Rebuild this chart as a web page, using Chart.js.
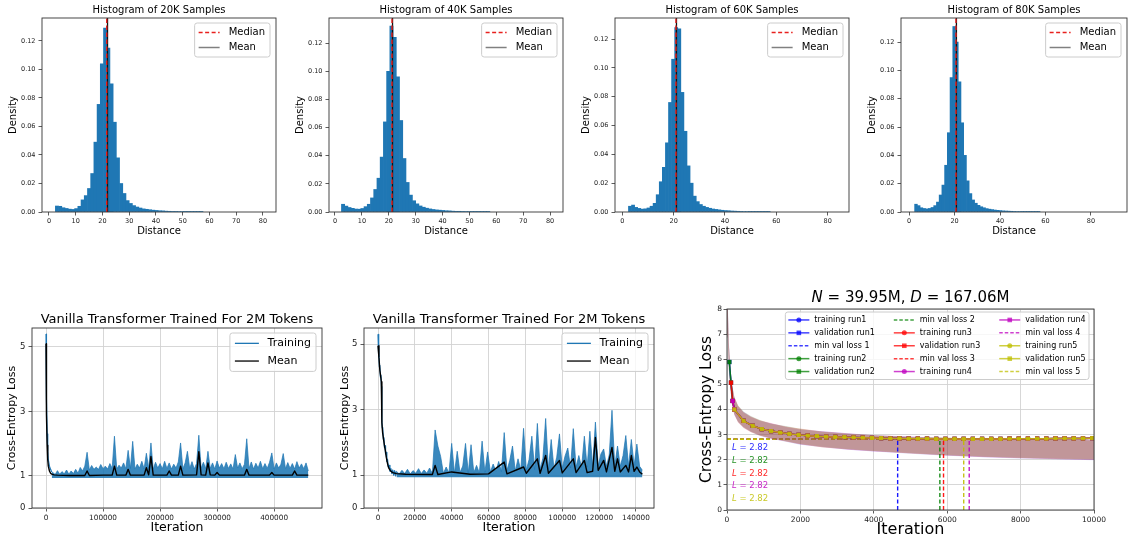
<!DOCTYPE html>
<html>
<head>
<meta charset="utf-8">
<script src="https://cdn.jsdelivr.net/npm/chart.js@4.4.1/dist/chart.umd.min.js"></script>
<style>
  html, body { margin: 0; padding: 0; background: #fff; }
  #fig { position: relative; width: 1130px; height: 540px; overflow: hidden; }
  #fig canvas { position: absolute; }
</style>
</head>
<body>
<div id="fig">
  <canvas id="h1"></canvas>
  <canvas id="h2"></canvas>
  <canvas id="h3"></canvas>
  <canvas id="h4"></canvas>
  <canvas id="p1"></canvas>
  <canvas id="p2"></canvas>
  <canvas id="p3"></canvas>
</div>
<script>
// ---------- histogram data (density per bin) ----------
const binCenters = [3.0, 4.2, 5.4, 6.6, 7.8, 9.0, 10.2, 11.4, 12.6, 13.8, 15.0, 16.2, 17.4, 18.6, 19.8, 21.0, 22.2, 23.4, 24.6, 25.8, 27.0, 28.2, 29.4, 30.6, 31.8, 33.0, 34.2, 35.4, 36.6, 37.8, 39.0, 40.2, 41.4, 42.6, 43.8, 45.0, 46.2, 47.4, 48.6, 49.8, 51.0, 52.2, 53.4, 54.6, 55.8, 57.0];
const hist20k = [0.0042, 0.0040, 0.0030, 0.0025, 0.0020, 0.0018, 0.0024, 0.0040, 0.0085, 0.0115, 0.0165, 0.0270, 0.0490, 0.0755, 0.1040, 0.1290, 0.1150, 0.0900, 0.0630, 0.0380, 0.0200, 0.0130, 0.0080, 0.0060, 0.0045, 0.0035, 0.0028, 0.0022, 0.0019, 0.0016, 0.0013, 0.0011, 0.0009, 0.0008, 0.0006, 0.0005, 0.0004, 0.0004, 0.0003, 0.0003, 0.0002, 0.0002, 0.0001, 0.0001, 0.0001, 0.0001];
const hist40k = [0.0055, 0.0042, 0.0032, 0.0026, 0.0021, 0.0020, 0.0025, 0.0038, 0.0055, 0.0100, 0.0160, 0.0240, 0.0390, 0.0640, 0.1000, 0.1320, 0.1240, 0.0960, 0.0650, 0.0380, 0.0210, 0.0120, 0.0080, 0.0058, 0.0043, 0.0034, 0.0027, 0.0022, 0.0018, 0.0015, 0.0013, 0.0011, 0.0009, 0.0008, 0.0006, 0.0005, 0.0005, 0.0004, 0.0003, 0.0003, 0.0002, 0.0002, 0.0002, 0.0001, 0.0001, 0.0001];
const hist60k = [0.0040, 0.0048, 0.0032, 0.0025, 0.0020, 0.0022, 0.0028, 0.0040, 0.0060, 0.0120, 0.0210, 0.0310, 0.0480, 0.0760, 0.1060, 0.1280, 0.1270, 0.0830, 0.0560, 0.0320, 0.0200, 0.0110, 0.0072, 0.0052, 0.0040, 0.0032, 0.0026, 0.0021, 0.0018, 0.0015, 0.0012, 0.0010, 0.0009, 0.0007, 0.0006, 0.0005, 0.0004, 0.0003, 0.0003, 0.0002, 0.0002, 0.0002, 0.0001, 0.0001, 0.0001, 0.0001];
const hist80k = [0.0055, 0.0045, 0.0030, 0.0025, 0.0022, 0.0025, 0.0032, 0.0045, 0.0070, 0.0120, 0.0190, 0.0330, 0.0560, 0.0950, 0.1310, 0.1200, 0.0920, 0.0630, 0.0400, 0.0220, 0.0130, 0.0085, 0.0062, 0.0047, 0.0037, 0.0030, 0.0024, 0.0020, 0.0017, 0.0014, 0.0012, 0.0010, 0.0008, 0.0007, 0.0006, 0.0005, 0.0004, 0.0003, 0.0003, 0.0002, 0.0002, 0.0002, 0.0001, 0.0001, 0.0001, 0.0001];
const histTitles = ['Histogram of 20K Samples', 'Histogram of 40K Samples', 'Histogram of 60K Samples', 'Histogram of 80K Samples'];
const medians = [21.6, 21.2, 20.9, 20.6];
const means = [21.9, 21.4, 21.1, 20.8];
const densityTicks = [0, 0.02, 0.04, 0.06, 0.08, 0.10, 0.12];
const distTicks10 = [0, 10, 20, 30, 40, 50, 60, 70, 80];
const distTicks20 = [0, 20, 40, 60, 80];

// ---------- vanilla transformer runs (iterations in thousands) ----------
const lossTitle = 'Vanilla Transformer Trained For 2M Tokens';
const lossTicks = [0, 1, 3, 5];
const iterTicksA = [0, 100, 200, 300, 400];
const iterTicksB = [0, 20, 40, 60, 80, 100, 120, 140];

// run A: initial drop (first 9 points), then the top edge of the noisy plateau
const runAIters = [0, 0.5, 1, 2, 3, 4, 6, 8, 10, 12, 16, 20, 24, 28, 32, 36, 40, 44, 48, 52, 56, 60, 64, 68, 72, 76, 80, 84, 88, 92, 96, 100, 104, 108, 112, 116, 120, 124, 128, 132, 136, 140, 144, 148, 152, 156, 160, 164, 168, 172, 176, 180, 184, 188, 192, 196, 200, 204, 208, 212, 216, 220, 224, 228, 232, 236, 240, 244, 248, 252, 256, 260, 264, 268, 272, 276, 280, 284, 288, 292, 296, 300, 304, 308, 312, 316, 320, 324, 328, 332, 336, 340, 344, 348, 352, 356, 360, 364, 368, 372, 376, 380, 384, 388, 392, 396, 400, 404, 408, 412, 416, 420, 424, 428, 432, 436, 440, 444, 448, 452, 456, 460];
const runALoss = [5.4, 4.5, 3.4, 2.3, 1.75, 1.5, 1.3, 1.2, 1.12,
  1.10, 1.04, 1.16, 1.05, 1.13, 1.06, 1.18, 1.05, 1.15, 1.07, 1.20, 1.08, 1.26, 1.15, 1.30, 1.73, 1.18, 1.32, 1.20, 1.27,
  1.20, 1.35, 1.22, 1.30, 1.21, 1.38, 1.23, 2.23, 1.21, 1.33, 1.24, 1.40, 1.22, 1.79, 1.23, 2.07, 1.21, 1.36, 1.24, 1.45,
  1.22, 1.70, 1.23, 2.02, 1.21, 1.42, 1.24, 1.38, 1.22, 1.45, 1.23, 1.40, 1.21, 1.36, 1.24, 1.43, 2.02, 1.22, 1.40, 1.76,
  1.23, 1.44, 1.21, 1.38, 2.26, 1.24, 1.42, 1.22, 1.76, 1.23, 1.40, 1.21, 1.46, 1.24, 1.38, 1.22, 1.42, 1.23, 1.37, 1.21,
  1.66, 1.24, 1.40, 1.22, 1.36, 2.15, 1.23, 1.43, 1.21, 1.39, 1.24, 1.45, 1.22, 1.38, 1.23, 1.42, 1.71, 1.21, 1.40, 1.24,
  1.36, 1.69, 1.22, 1.41, 1.23, 1.38, 1.21, 1.44, 1.24, 1.37, 1.22, 1.40, 1.15];
const runAHead = 9;
const runAFloor = 0.93;   // lower edge of the noise band
const runAMeanIters = [0, 0.5, 1, 2, 3, 4, 6, 8, 10, 14, 20, 40, 68, 72, 76, 100, 116, 120, 124, 140, 144, 148, 172, 176, 180, 184, 188, 212, 216, 220, 232, 236, 240, 264, 268, 272, 280, 284, 288, 296, 300, 304, 348, 352, 356, 392, 396, 400, 432, 436, 440, 460];
const runAMeanLoss = [5.1, 3.9, 2.9, 1.95, 1.5, 1.3, 1.15, 1.08, 1.05, 1.03, 1.02, 1.01, 1.01, 1.15, 1.01, 1.02, 1.02, 1.30, 1.02, 1.02, 1.20, 1.02, 1.02, 1.25, 1.03, 1.60, 1.02, 1.02, 1.15, 1.02, 1.02, 1.30, 1.02, 1.03, 1.75, 1.03, 1.02, 1.40, 1.03, 1.02, 1.10, 1.02, 1.02, 1.20, 1.02, 1.02, 1.10, 1.02, 1.02, 1.15, 1.02, 1.02];

// run B: initial drop (first 29 points), then the top edge of the noisy plateau
const runBIters = [0, 0.25, 0.5, 0.75, 1, 1.3, 1.6, 1.9, 2.1, 2.3, 2.6, 2.9, 3.2, 3.5, 3.8, 4.1, 4.4, 4.8, 5.2, 5.6, 6, 6.5, 7, 7.5, 8, 8.5, 9, 9.5, 10, 11.5, 13, 14.5, 16, 17.5, 19, 20.5, 22, 23.5, 25, 26.5, 28, 29.5, 31, 32.5, 34, 35.5, 37, 38.5, 40, 41.5, 43, 44.5, 46, 47.5, 49, 50.5, 52, 53.5, 55, 56.5, 58, 59.5, 61, 62.5, 64, 65.5, 67, 68.5, 70, 71.5, 73, 74.5, 76, 77.5, 79, 80.5, 82, 83.5, 85, 86.5, 88, 89.5, 91, 92.5, 94, 95.5, 97, 98.5, 100, 101.5, 103, 104.5, 106, 107.5, 109, 110.5, 112, 113.5, 115, 116.5, 118, 119.5, 121, 122.5, 124, 125.5, 127, 128.5, 130, 131.5, 133, 134.5, 136, 137.5, 139, 140.5, 142, 143.5];
const runBLoss = [5.3, 4.6, 4.95, 4.3, 4.35, 4.0, 4.05, 3.7, 2.7, 2.45, 2.4, 2.1, 2.15, 1.85, 1.9, 1.65, 1.7, 1.42, 1.48, 1.25, 1.3, 1.12, 1.2, 1.05, 1.16, 1.0, 1.14, 0.98,
  1.12, 1.04, 1.15, 1.05, 1.18, 1.04, 1.14, 1.06, 1.20, 1.05, 1.16, 1.06, 1.22, 1.05, 2.38, 1.89, 1.57, 1.06, 1.25, 1.07,
  1.97, 1.06, 1.73, 1.08, 1.28, 1.97, 1.07, 1.93, 1.08, 1.30, 1.07, 2.04, 1.09, 1.71, 1.10, 1.34, 1.12, 1.42, 1.11, 2.30,
  1.14, 1.45, 1.89, 1.13, 1.50, 1.15, 2.43, 1.16, 1.48, 2.19, 1.17, 2.58, 1.18, 1.52, 2.73, 1.18, 2.09, 1.20, 1.55, 2.26,
  1.21, 1.58, 1.83, 1.22, 2.42, 1.24, 1.60, 1.23, 2.19, 1.25, 2.34, 1.26, 2.62, 1.28, 1.65, 1.80, 1.27, 1.62, 2.98, 1.28,
  1.89, 1.27, 1.60, 2.21, 1.28, 2.09, 1.30, 1.95, 1.27, 1.15];
const runBHead = 29;
const runBFloor = 0.94;
const runBMeanIters = [0, 0.5, 1, 1.5, 1.8, 2.1, 2.5, 3, 3.5, 4, 4.5, 5, 5.5, 6, 7, 8, 10, 15, 29.5, 31, 32.5, 40, 50, 60, 68.5, 70, 79, 80.5, 86.5, 88, 91, 92.5, 98.5, 100, 106, 107.5, 112, 113.5, 116.5, 118, 119.5, 122.5, 124, 127, 128.5, 130, 131.5, 134.5, 136, 137.5, 139, 140.5, 142, 143.5];
const runBMeanLoss = [4.95, 4.6, 4.2, 4.0, 3.85, 2.6, 2.3, 2.1, 1.9, 1.75, 1.55, 1.4, 1.28, 1.2, 1.12, 1.08, 1.05, 1.03, 1.02, 1.30, 1.02, 1.10, 1.03, 1.04, 1.40, 1.04, 1.25, 1.06, 1.50, 1.06, 1.60, 1.06, 1.45, 1.07, 1.50, 1.08, 1.45, 1.08, 1.12, 2.15, 1.15, 1.45, 1.10, 1.85, 1.12, 1.50, 1.10, 1.30, 1.10, 1.60, 1.12, 1.25, 1.10, 1.03];

// ---------- N = 39.95M, D = 167.06M : five runs ----------
const trainIters = [0, 20, 50, 100, 150, 200, 300, 450, 650, 900, 1200, 1600, 2000, 2600, 3300, 4000, 5000, 6000, 7000, 8000, 9000, 10000];
const trainHi = [
  [9.9, 8.3, 6.7, 5.5, 4.9, 4.5, 4.12, 3.9, 3.7, 3.55, 3.45, 3.3, 3.2, 3.13, 3.05, 2.97, 2.93, 2.87, 2.85, 2.83, 2.8, 2.8],
  [9.7, 8.1, 6.6, 5.45, 4.85, 4.48, 4.17, 3.92, 3.74, 3.58, 3.43, 3.34, 3.23, 3.11, 3.03, 2.99, 2.91, 2.89, 2.83, 2.82, 2.81, 2.77],
  [9.8, 8.2, 6.55, 5.5, 4.92, 4.52, 4.16, 3.88, 3.71, 3.57, 3.46, 3.31, 3.24, 3.12, 3.04, 2.98, 2.92, 2.88, 2.84, 2.81, 2.79, 2.78],
  [9.9, 8.25, 6.65, 5.52, 4.88, 4.5, 4.14, 3.91, 3.73, 3.55, 3.44, 3.33, 3.21, 3.13, 3.05, 2.99, 2.93, 2.87, 2.85, 2.82, 2.8, 2.79],
  [9.75, 8.15, 6.6, 5.48, 4.9, 4.49, 4.15, 3.89, 3.72, 3.56, 3.43, 3.32, 3.22, 3.11, 3.03, 2.97, 2.91, 2.88, 2.84, 2.82, 2.8, 2.78]
];
const trainLo = [
  [8.7, 6.9, 5.6, 4.7, 4.1, 3.78, 3.5, 3.27, 3.1, 2.95, 2.84, 2.72, 2.6, 2.5, 2.4, 2.33, 2.24, 2.16, 2.1, 2.05, 2.02, 1.98],
  [8.5, 6.85, 5.55, 4.68, 4.12, 3.82, 3.52, 3.3, 3.12, 2.98, 2.86, 2.75, 2.63, 2.52, 2.42, 2.35, 2.27, 2.18, 2.12, 2.08, 2.04, 2.02],
  [8.6, 6.95, 5.62, 4.72, 4.08, 3.8, 3.48, 3.26, 3.09, 2.96, 2.85, 2.73, 2.62, 2.49, 2.41, 2.34, 2.25, 2.17, 2.11, 2.06, 2.03, 2.0],
  [8.65, 6.9, 5.58, 4.7, 4.1, 3.79, 3.51, 3.29, 3.11, 2.97, 2.84, 2.74, 2.61, 2.51, 2.4, 2.33, 2.26, 2.17, 2.1, 2.07, 2.02, 1.99],
  [8.55, 6.9, 5.6, 4.71, 4.11, 3.81, 3.5, 3.28, 3.1, 2.96, 2.86, 2.73, 2.62, 2.5, 2.42, 2.35, 2.25, 2.18, 2.12, 2.07, 2.04, 2.01]
];
const valIters = [64, 109, 154, 200, 450, 700, 950, 1200, 1450, 1700, 1950, 2200, 2450, 2700, 2950, 3200, 3450, 3700, 3950, 4200, 4450, 4700, 4950, 5200, 5450, 5700, 5950, 6200, 6450, 6700, 6950, 7200, 7450, 7700, 7950, 8200, 8450, 8700, 8950, 9200, 9450, 9700, 9950];
const valLoss = [5.89, 5.07, 4.34, 4.00, 3.55, 3.35, 3.22, 3.14, 3.08, 3.03, 2.99, 2.96, 2.94, 2.92, 2.91, 2.90, 2.89, 2.88, 2.87, 2.86, 2.85, 2.85, 2.84, 2.84, 2.84, 2.83, 2.83, 2.83, 2.83, 2.83, 2.83, 2.83, 2.83, 2.84, 2.84, 2.84, 2.84, 2.84, 2.85, 2.85, 2.85, 2.85, 2.86];
const valStart = [0, 0, 1, 2, 3];   // first logged validation point of each run
const minLoss = [2.82, 2.82, 2.82, 2.82, 2.82];
const minIter = [4650, 5800, 5900, 6600, 6450];
const runTitle = [{ t: 'N', it: true }, { t: ' = 39.95M, ' }, { t: 'D', it: true }, { t: ' = 167.06M' }];
const runTicksX = [0, 2000, 4000, 6000, 8000, 10000];
const runTicksY = [0, 1, 2, 3, 4, 5, 6, 7, 8];

// ---------- styling ----------
const FONT = 'DejaVu Sans';
const BLUE = '#1f77b4';
const runColors = ['0,0,255', '0,128,0', '255,0,0', '191,0,191', '191,191,0'];
Chart.defaults.font.family = FONT;

function rgba(c, a) { return 'rgba(' + c + ',' + a + ')'; }
function pts(xs, ys) { return xs.map((x, i) => ({ x: x, y: ys[i] })); }

function place(id, left, top, w, h) {
    const c = document.getElementById(id);
    c.width = w; c.height = h;
    c.style.left = left + 'px'; c.style.top = top + 'px';
    c.style.width = w + 'px'; c.style.height = h + 'px';
    return c;
}

// one axis with fixed box size and explicit tick list
function axis(o) {
    return {
        type: 'linear', min: o.min, max: o.max, offset: false,
        afterFit: s => { if (s.isHorizontal()) s.height = o.size; else s.width = o.size; },
        afterBuildTicks: s => { s.ticks = o.ticks.map(v => ({ value: v })); },
        ticks: {
            autoSkip: false, maxRotation: 0, padding: o.pad, color: '#222',
            font: { family: FONT, size: o.tickSize }, callback: o.fmt
        },
        grid: {
            display: true, drawOnChartArea: !!o.grid, offset: false,
            color: '#d2d2d2', lineWidth: 0.9, tickLength: 3.5, tickColor: '#333', tickWidth: 0.8
        },
        border: { display: false },
        title: {
            display: true, text: o.title, color: '#000',
            font: { family: FONT, size: o.titleSize },
            padding: o.horizontal ? { top: 0, bottom: o.titlePad } : { top: o.titlePad, bottom: 0 }
        }
    };
}

// text made of plain and italic parts
function drawParts(ctx, parts, x, y, size, align, color) {
    const fonts = parts.map(p => (p.it ? 'italic ' : '') + size + 'px "' + FONT + '"');
    let w = 0;
    parts.forEach((p, i) => { ctx.font = fonts[i]; w += ctx.measureText(p.t).width; });
    let cx = align === 'center' ? x - w / 2 : x;
    ctx.fillStyle = color || '#000';
    ctx.textBaseline = 'middle';
    ctx.textAlign = 'left';
    parts.forEach((p, i) => { ctx.font = fonts[i]; ctx.fillText(p.t, cx, y); cx += ctx.measureText(p.t).width; });
}

function drawLegend(ctx, a, lg) {
    ctx.font = lg.size + 'px "' + FONT + '"';
    const cols = [];
    for (let i = 0; i < lg.items.length; i += lg.rows) cols.push(lg.items.slice(i, i + lg.rows));
    const colW = cols.map((c, k) => lg.padX + lg.handle + lg.gap +
        Math.max(...c.map(it => ctx.measureText(it.label).width)) +
        (k < cols.length - 1 ? lg.colSpace : lg.padR));
    const w = colW.reduce((s, v) => s + v, 0);
    const h = lg.padY * 2 + lg.rows * lg.rowH;
    const x0 = a.right - lg.insetR - w, y0 = a.top + lg.insetT;
    ctx.beginPath();
    ctx.roundRect(x0, y0, w, h, 2.5);
    ctx.fillStyle = 'rgba(255,255,255,0.8)';
    ctx.fill();
    ctx.strokeStyle = '#cccccc'; ctx.lineWidth = 1; ctx.setLineDash([]);
    ctx.stroke();
    let cx = x0;
    cols.forEach((c, k) => {
        c.forEach((it, r) => {
            const y = y0 + lg.padY + lg.rowH * (r + 0.5);
            const hx = cx + lg.padX;
            ctx.strokeStyle = it.color; ctx.lineWidth = it.width;
            ctx.setLineDash(it.dash || []);
            ctx.beginPath(); ctx.moveTo(hx, y); ctx.lineTo(hx + lg.handle, y); ctx.stroke();
            ctx.setLineDash([]);
            ctx.fillStyle = it.color;
            if (it.marker === 'circle') { ctx.beginPath(); ctx.arc(hx + lg.handle / 2, y, 2.5, 0, Math.PI * 2); ctx.fill(); }
            if (it.marker === 'square') ctx.fillRect(hx + lg.handle / 2 - 2.3, y - 2.3, 4.6, 4.6);
            ctx.fillStyle = '#000'; ctx.textBaseline = 'middle'; ctx.textAlign = 'left';
            ctx.font = lg.size + 'px "' + FONT + '"';
            ctx.fillText(it.label, hx + lg.handle + lg.gap, y);
        });
        cx += colW[k];
    });
}

// frame, title, legend and notes for one subplot
function decor(cfg) {
    return {
        id: 'decor',
        afterDraw(chart) {
            const ctx = chart.ctx, a = chart.chartArea;
            ctx.save();
            ctx.strokeStyle = '#333'; ctx.lineWidth = 0.9; ctx.setLineDash([]);
            ctx.strokeRect(a.left, a.top, a.right - a.left, a.bottom - a.top);
            const parts = typeof cfg.title === 'string' ? [{ t: cfg.title }] : cfg.title;
            drawParts(ctx, parts, (a.left + a.right) / 2, a.top - cfg.titleOff, cfg.titleSize, 'center');
            if (cfg.notes) {
                cfg.notes.items.forEach((n, i) => {
                    drawParts(ctx, n.parts, a.left + cfg.notes.dx, a.top + cfg.notes.dy[i], cfg.notes.size, 'left', n.color);
                });
            }
            if (cfg.legend) drawLegend(ctx, a, cfg.legend);
            ctx.restore();
        }
    };
}

const baseOptions = {
    responsive: false, animation: false, devicePixelRatio: 1, events: [],
    plugins: { legend: { display: false }, tooltip: { enabled: false } },
    elements: { point: { radius: 0 }, line: { borderJoinStyle: 'round' } }
};

// ---------- top row: four histograms ----------
const histData = [hist20k, hist40k, hist60k, hist80k];
const histBoxes = [
    { id: 'h1', left: 0,   w: 280, right: 4, xMin: -2.6,  xMax: 84.9, yMax: 0.1361, xt: distTicks10 },
    { id: 'h2', left: 287, w: 280, right: 4, xMin: -2.23, xMax: 84.8, yMax: 0.1378, xt: distTicks10 },
    { id: 'h3', left: 573, w: 280, right: 4, xMin: -2.84, xMax: 88.3, yMax: 0.1346, xt: distTicks20 },
    { id: 'h4', left: 859, w: 270, right: 2, xMin: -3.6,  xMax: 95.9, yMax: 0.1370, xt: distTicks20 }
];
const histLegend = {
    items: [
        { label: 'Median', color: '#e8201e', width: 1.5, dash: [4, 2.5] },
        { label: 'Mean', color: '#808080', width: 1.5 }
    ],
    rows: 2, size: 10, padX: 4, handle: 21, gap: 9, colSpace: 0, padR: 5, padY: 2, rowH: 15, insetR: 6, insetT: 5
};

histBoxes.forEach((b, k) => {
    const cv = place(b.id, b.left, 0, b.w, 240);
    new Chart(cv, {
        type: 'bar',
        data: {
            datasets: [
                { type: 'line', data: [{ x: medians[k], y: 0 }, { x: medians[k], y: b.yMax }], borderColor: '#e8201e', borderWidth: 1.4, borderDash: [4.5, 2.5], pointRadius: 0, order: 0 },
                { type: 'line', data: [{ x: means[k], y: 0 }, { x: means[k], y: b.yMax }], borderColor: '#111', borderWidth: 1.3, pointRadius: 0, order: 1 },
                { data: pts(binCenters, histData[k]), backgroundColor: BLUE, borderWidth: 0, barPercentage: 1, categoryPercentage: 1, order: 2 }
            ]
        },
        options: Object.assign({}, baseOptions, {
            layout: { padding: { top: 18, right: b.right, left: 0, bottom: 0 } },
            scales: {
                x: axis({ horizontal: true, min: b.xMin, max: b.xMax, size: 28, ticks: b.xt, tickSize: 6.5, pad: 1.5, title: 'Distance', titleSize: 10, titlePad: 3, fmt: v => String(v) }),
                y: axis({ min: 0, max: b.yMax, size: 42, ticks: densityTicks, tickSize: 6.5, pad: 3, title: 'Density', titleSize: 10, titlePad: 7, fmt: v => v.toFixed(2) })
            }
        }),
        plugins: [decor({ title: histTitles[k], titleSize: 10, titleOff: 8, legend: histLegend })]
    });
});

// ---------- bottom left: two training-loss plots ----------
const lossLegend = {
    items: [
        { label: 'Training', color: BLUE, width: 1.3 },
        { label: 'Mean', color: '#222', width: 1.5 }
    ],
    rows: 2, size: 11, padX: 5, handle: 24, gap: 8.7, colSpace: 0, padR: 5, padY: 1.5, rowH: 17.7, insetR: 6, insetT: 5
};

function lossChart(id, left, yw, xMin, xMax, yMax, xt, iters, loss, head, floor, mIters, mLoss, yTitlePad) {
    const cv = place(id, left, 308, 290 + yw + 4, 230);
    new Chart(cv, {
        type: 'line',
        data: {
            datasets: [
                { data: pts(mIters, mLoss), borderColor: '#000', borderWidth: 1.4, pointRadius: 0, order: 0 },
                // initial drop of the training loss
                { data: pts(iters.slice(0, head), loss.slice(0, head)), borderColor: BLUE, borderWidth: 1.2, pointRadius: 0, order: 1 },
                // noisy plateau: shaded from the band floor up to its ragged top edge
                { data: pts(iters.slice(head - 1), loss.slice(head - 1)), borderColor: 'rgba(31,119,180,0.8)', borderWidth: 0.9, pointRadius: 0,
                  fill: { value: floor }, backgroundColor: 'rgba(31,119,180,0.88)', order: 2 }
            ]
        },
        options: Object.assign({}, baseOptions, {
            layout: { padding: { top: 20, right: 4, left: 0, bottom: 0 } },
            scales: {
                x: axis({ horizontal: true, grid: true, min: xMin, max: xMax, size: 30, ticks: xt, tickSize: 7.3, pad: 2, title: 'Iteration', titleSize: 12.5, titlePad: 2.5, fmt: v => String(v * 1000) }),
                y: axis({ grid: true, min: 0, max: yMax, size: yw, ticks: lossTicks, tickSize: 8.5, pad: 3, title: 'Cross-Entropy Loss', titleSize: 11, titlePad: yTitlePad, fmt: v => String(v) })
            }
        }),
        plugins: [decor({ title: lossTitle, titleSize: 13, titleOff: 8, legend: lossLegend })]
    });
}

lossChart('p1', 0, 32, -24.6, 484, 5.59, iterTicksA, runAIters, runALoss, runAHead, runAFloor, runAMeanIters, runAMeanLoss, 5.4);
lossChart('p2', 330, 34, -7.6, 149.8, 5.49, iterTicksB, runBIters, runBLoss, runBHead, runBFloor, runBMeanIters, runBMeanLoss, 8.4);

// ---------- bottom right: five runs with validation ----------
const p3Sets = [];
runColors.forEach((c, r) => {
    // noisy training run drawn as a band (later runs on top)
    p3Sets.push({ data: pts(trainIters, trainHi[r]), borderColor: 'rgba(0,0,0,0)', borderWidth: 0, pointRadius: 0, fill: '+1', backgroundColor: rgba(c, 0.16), order: 25 - r });
    p3Sets.push({ data: pts(trainIters, trainLo[r]), borderColor: 'rgba(0,0,0,0)', borderWidth: 0, pointRadius: 0, fill: false, order: 25 - r });
    // validation curve
    const v = pts(valIters, valLoss).filter((p, i) => i >= valStart[r]);
    p3Sets.push({ data: v, borderColor: rgba(c, 0.85), borderWidth: 1.5, pointRadius: 3, pointStyle: 'rect', pointBackgroundColor: rgba(c, 0.9), pointBorderWidth: 0, order: 10 - r });
    // minimum validation loss markers (the last run's line is widest so it hides the ones below)
    p3Sets.push({ data: [{ x: 0, y: minLoss[r] }, { x: minIter[r], y: minLoss[r] }], borderColor: rgba(c, 1), borderWidth: r === 4 ? 1.7 : 1.0, borderDash: [4, 2.5], pointRadius: 0, order: 35 - r });
    p3Sets.push({ data: [{ x: minIter[r], y: 0 }, { x: minIter[r], y: minLoss[r] }], borderColor: rgba(c, 0.9), borderWidth: 1.4, borderDash: [4, 2.5], pointRadius: 0, order: 5 - r });
});

const runLegendItems = [];
runColors.forEach((c, r) => {
    runLegendItems.push({ label: 'training run' + (r + 1), color: rgba(c, 0.75), width: 1.5, marker: 'circle' });
    runLegendItems.push({ label: 'validation run' + (r + 1), color: rgba(c, 0.75), width: 1.5, marker: 'square' });
    runLegendItems.push({ label: 'min val loss ' + (r + 1), color: rgba(c, 0.75), width: 1.5, dash: [3.5, 2] });
});

const p3 = place('p3', 690, 280, 424, 260);
new Chart(p3, {
    type: 'line',
    data: { datasets: p3Sets },
    options: Object.assign({}, baseOptions, {
        layout: { padding: { top: 29, right: 20, left: 0, bottom: 0 } },
        scales: {
            x: axis({ horizontal: true, grid: true, min: 0, max: 10000, size: 30, ticks: runTicksX, tickSize: 7.5, pad: 2, title: 'Iteration', titleSize: 16, titlePad: 0.4, fmt: v => String(v) }),
            y: axis({ grid: true, min: 0, max: 8, size: 37, ticks: runTicksY, tickSize: 7.5, pad: 1.5, title: 'Cross-Entropy Loss', titleSize: 15.5, titlePad: 7.4, fmt: v => String(v) })
        }
    }),
    plugins: [decor({
        title: runTitle, titleSize: 15, titleOff: 11,
        legend: { items: runLegendItems, rows: 5, size: 8, padX: 3, handle: 21, gap: 5, colSpace: 16, padR: 3.3, padY: 1.5, rowH: 12.9, insetR: 5, insetT: 3 },
        notes: {
            dx: 5, dy: [138.7, 151.7, 164.7, 177, 190], size: 8.5,
            items: runColors.map((c, r) => ({ parts: [{ t: 'L', it: true }, { t: ' = ' + minLoss[r].toFixed(2) }], color: rgba(c, 0.85) }))
        }
    })]
});
</script>
</body>
</html>
